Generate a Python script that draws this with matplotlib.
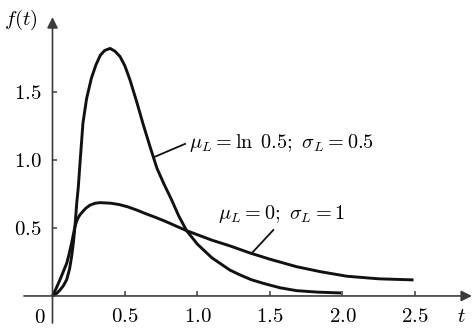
import matplotlib.pyplot as plt

plt.rcParams['mathtext.fontset'] = 'cm'
plt.rcParams['font.family'] = 'DejaVu Serif'

# mu_L = ln 0.5, sigma_L = 0.5
t1 = [0.0, 0.03, 0.052, 0.075, 0.098, 0.118, 0.132, 0.145, 0.155, 0.167, 0.178, 0.19,
      0.21, 0.235, 0.268, 0.30, 0.33, 0.36, 0.397, 0.43, 0.466, 0.50, 0.534, 0.58,
      0.626, 0.672, 0.72, 0.77, 0.82, 0.87, 0.925, 1.0, 1.1, 1.224, 1.293, 1.37,
      1.453, 1.57, 1.684, 1.83, 1.99]
f1 = [0.0, 0.02, 0.044, 0.075, 0.12, 0.2, 0.29, 0.4, 0.51, 0.68, 0.80, 0.98,
      1.27, 1.45, 1.6, 1.7, 1.77, 1.805, 1.82, 1.8, 1.76, 1.69, 1.59, 1.43,
      1.26, 1.10, 0.94, 0.82, 0.71, 0.59, 0.48, 0.38, 0.28, 0.19, 0.155, 0.12,
      0.093, 0.06, 0.039, 0.028, 0.022]

# mu_L = 0, sigma_L = 1
t2 = [0.0, 0.025, 0.052, 0.075, 0.098, 0.115, 0.132, 0.155, 0.165, 0.175, 0.187, 0.2,
      0.215, 0.23, 0.259, 0.295, 0.328, 0.4, 0.46, 0.52, 0.58, 0.638, 0.71, 0.78,
      0.85, 0.925, 1.0, 1.1, 1.224, 1.362, 1.5, 1.684, 1.85, 2.03, 2.25, 2.49]
f2 = [0.0, 0.055, 0.12, 0.18, 0.24, 0.31, 0.39, 0.51, 0.545, 0.57, 0.593, 0.61,
      0.628, 0.645, 0.668, 0.682, 0.686, 0.682, 0.672, 0.655, 0.632, 0.607, 0.578, 0.548,
      0.515, 0.48, 0.45, 0.41, 0.368, 0.316, 0.27, 0.215, 0.178, 0.145, 0.126, 0.118]

xticks = [0.5, 1.0, 1.5, 2.0, 2.5]
xlabels = ['0.5', '1.0', '1.5', '2.0', '2.5']
yticks = [0.5, 1.0, 1.5]
ylabels = ['0.5', '1.0', '1.5']

axis_col = '#3c3c3c'
fs = 15

fig = plt.figure(figsize=(4.74, 3.32), dpi=100)
ax = fig.add_axes([0, 0, 1, 1])
ax.set_xlim(-0.362, 2.907)
ax.set_ylim(-0.265, 2.176)

ax.plot(t1, f1, color='#111111', lw=2.1, solid_joinstyle='round', solid_capstyle='butt')
ax.plot(t2, f2, color='#111111', lw=2.1, solid_joinstyle='round', solid_capstyle='butt')

# axes with arrows
ax.annotate('', xy=(2.893, 0), xytext=(-0.197, 0),
            arrowprops=dict(arrowstyle='-|>', color=axis_col, lw=1.2,
                            mutation_scale=16, shrinkA=0, shrinkB=0))
ax.annotate('', xy=(0, 2.05), xytext=(0, -0.199),
            arrowprops=dict(arrowstyle='-|>', color=axis_col, lw=1.2,
                            mutation_scale=16, shrinkA=0, shrinkB=0))

for s in ax.spines.values():
    s.set_visible(False)
ax.spines['left'].set_position(('data', 0))
ax.spines['bottom'].set_position(('data', 0))
ax.xaxis.set_ticks_position('bottom')
ax.yaxis.set_ticks_position('left')
ax.set_xticks(xticks, ['$' + s + '$' for s in xlabels])
ax.set_yticks(yticks, ['$' + s + '$' for s in ylabels])
ax.tick_params(axis='x', direction='in', length=3.5, width=1.1, color=axis_col,
               pad=8, labelsize=fs)
ax.tick_params(axis='y', direction='in', length=3.5, width=1.1, color=axis_col,
               pad=8, labelsize=fs)

ax.text(-0.085, -0.16, '$0$', fontsize=fs, ha='center', va='center')
ax.text(-0.22, 2.03, '$f(t)$', fontsize=fs, ha='center', va='center')
ax.text(2.82, -0.15, '$t$', fontsize=fs, ha='center', va='center')

# curve labels with leader lines
ax.plot([0.707, 0.914], [1.024, 1.118], color='#111111', lw=1.3)
ax.text(0.94, 1.125, r'$\mu_L=\ln\ 0.5;\ \sigma_L=0.5$', fontsize=14.6,
        ha='left', va='center')
ax.plot([1.374, 1.523], [0.314, 0.485], color='#111111', lw=1.3)
ax.text(1.14, 0.6, r'$\mu_L=0;\ \sigma_L=1$', fontsize=14.6,
        ha='left', va='center')

fig.savefig('out.png', dpi=100)
